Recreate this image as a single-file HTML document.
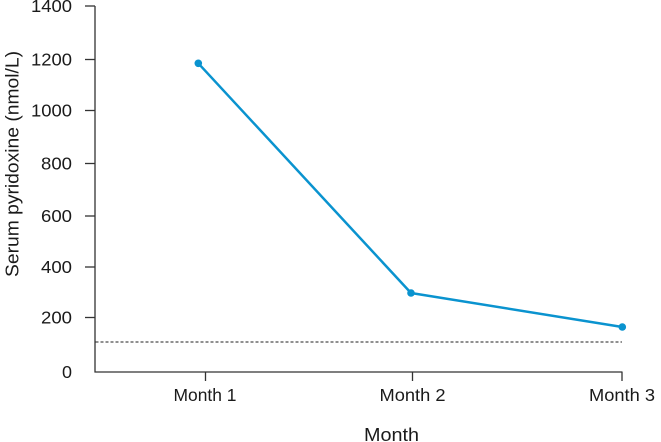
<!DOCTYPE html>
<html>
<head>
<meta charset="utf-8">
<style>
  html, body { margin: 0; padding: 0; background: #ffffff; }
  svg { display: block; }
  text { font-family: "Liberation Sans", "DejaVu Sans", sans-serif; fill: #1a1a1a; }
</style>
</head>
<body>
<svg width="661" height="442" viewBox="0 0 661 442" xmlns="http://www.w3.org/2000/svg">
  <!-- axes -->
  <line x1="95" y1="6" x2="95" y2="372.5" stroke="#333" stroke-width="1.3"/>
  <line x1="94.5" y1="372" x2="622.5" y2="372" stroke="#333" stroke-width="1.3"/>

  <!-- y ticks -->
  <g stroke="#333" stroke-width="1.3">
    <line x1="85" y1="6" x2="95" y2="6"/>
    <line x1="85" y1="59.5" x2="95" y2="59.5"/>
    <line x1="85" y1="110.5" x2="95" y2="110.5"/>
    <line x1="85" y1="163.5" x2="95" y2="163.5"/>
    <line x1="85" y1="216" x2="95" y2="216"/>
    <line x1="85" y1="267" x2="95" y2="267"/>
    <line x1="85" y1="317.5" x2="95" y2="317.5"/>
    <!-- x ticks -->
    <line x1="205.5" y1="372" x2="205.5" y2="381"/>
    <line x1="412.5" y1="372" x2="412.5" y2="381"/>
    <line x1="622" y1="372" x2="622" y2="381"/>
  </g>

  <!-- y tick labels -->
  <g font-size="17.5" text-anchor="end">
    <text x="72" y="12" textLength="41" lengthAdjust="spacingAndGlyphs">1400</text>
    <text x="72" y="65.5" textLength="41" lengthAdjust="spacingAndGlyphs">1200</text>
    <text x="72" y="116.5" textLength="41" lengthAdjust="spacingAndGlyphs">1000</text>
    <text x="72" y="169.5" textLength="31" lengthAdjust="spacingAndGlyphs">800</text>
    <text x="72" y="222" textLength="31" lengthAdjust="spacingAndGlyphs">600</text>
    <text x="72" y="273" textLength="31" lengthAdjust="spacingAndGlyphs">400</text>
    <text x="72" y="323.5" textLength="31" lengthAdjust="spacingAndGlyphs">200</text>
    <text x="72" y="378" textLength="10" lengthAdjust="spacingAndGlyphs">0</text>
  </g>

  <!-- x tick labels -->
  <g font-size="17.5" text-anchor="middle">
    <text x="205" y="401" textLength="63" lengthAdjust="spacingAndGlyphs">Month 1</text>
    <text x="412.5" y="401" textLength="66" lengthAdjust="spacingAndGlyphs">Month 2</text>
    <text x="622" y="401" textLength="66" lengthAdjust="spacingAndGlyphs">Month 3</text>
  </g>

  <!-- axis titles -->
  <text x="391.5" y="441" font-size="18.5" text-anchor="middle" textLength="55" lengthAdjust="spacingAndGlyphs">Month</text>
  <text transform="translate(18.5,164) rotate(-90)" font-size="18" text-anchor="middle" textLength="226" lengthAdjust="spacingAndGlyphs">Serum pyridoxine (nmol/L)</text>

  <!-- dashed reference line -->
  <line x1="95.5" y1="342" x2="622" y2="342" stroke="#222" stroke-width="1.1" stroke-dasharray="3,2"/>

  <!-- series -->
  <polyline points="198.3,63.3 411,293 622.3,327" fill="none" stroke="#0a93cf" stroke-width="2.5" stroke-linejoin="round"/>
  <circle cx="198.3" cy="63.3" r="3.8" fill="#0a93cf"/>
  <circle cx="411" cy="293" r="3.8" fill="#0a93cf"/>
  <circle cx="622.3" cy="327" r="3.8" fill="#0a93cf"/>
</svg>
</body>
</html>
